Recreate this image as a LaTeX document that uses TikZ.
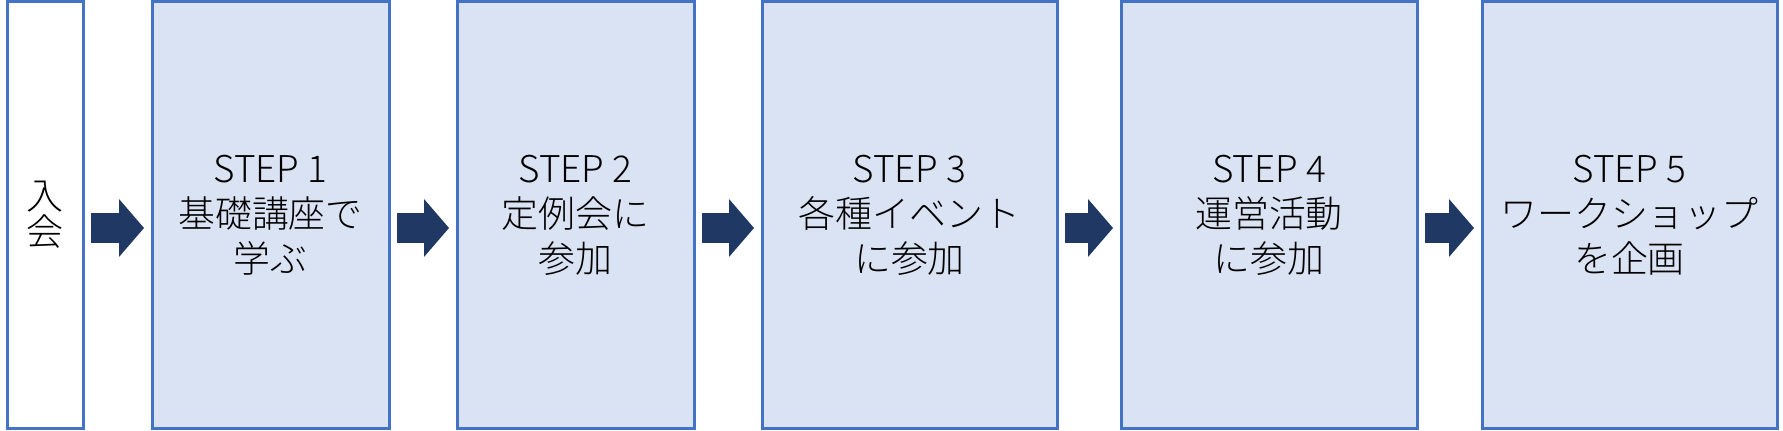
\documentclass[tikz,border=0pt]{standalone}
\usepackage{fontspec}
\setmainfont{Noto Sans CJK JP}[UprightFont=* Light]
\usepackage{xcolor}
\definecolor{stepblue}{HTML}{4472C4}
\definecolor{steplight}{HTML}{DAE3F3}
\definecolor{stepnavy}{HTML}{203864}
\usetikzlibrary{arrows.meta,positioning,calc}
\tikzset{
  stepbox/.style={draw=stepblue, line width=0.03cm, fill=steplight, outer sep=0pt, inner sep=0pt,
                  minimum width=#1, minimum height=4.27cm, align=center,
                  font=\fontsize{10.5}{12.8}\selectfont},
  joinbox/.style={draw=stepblue, line width=0.03cm, fill=white, outer sep=0pt, inner sep=0pt,
                  minimum width=0.755cm, minimum height=4.27cm, align=center,
                  font=\fontsize{10.5}{10.3}\selectfont},
  bigarrow/.style={draw=stepnavy, line width=0.30cm, shorten <=0.08cm, shorten >=0.08cm,
                   -{Triangle[length=0.25cm, width=0.58cm, line width=0pt]}},
}
\begin{document}
\begin{tikzpicture}

\useasboundingbox (0,0) rectangle (17.83,-4.31);

% Join
\node[joinbox] (join) at (0.4525,-2.15) {入\\会};

% Steps
\node[stepbox=2.37cm] (step1) at (2.705,-2.15) {STEP 1\\基礎講座で\\学ぶ};
\node[stepbox=2.37cm] (step2) at (5.755,-2.15) {STEP 2\\定例会に\\参加};
\node[stepbox=2.95cm] (step3) at (9.095,-2.15) {STEP 3\\各種イベント\\に参加};
\node[stepbox=2.96cm] (step4) at (12.69,-2.15) {STEP 4\\運営活動\\に参加};
\node[stepbox=2.95cm] (step5) at (16.295,-2.15) {STEP 5\\ワークショップ\\を企画};

% Arrows
\draw[bigarrow] ([yshift=-0.13cm]join.east) -- ([yshift=-0.13cm]step1.west);
\draw[bigarrow] ([yshift=-0.13cm]step1.east) -- ([yshift=-0.13cm]step2.west);
\draw[bigarrow] ([yshift=-0.13cm]step2.east) -- ([yshift=-0.13cm]step3.west);
\draw[bigarrow] ([yshift=-0.13cm]step3.east) -- ([yshift=-0.13cm]step4.west);
\draw[bigarrow] ([yshift=-0.13cm]step4.east) -- ([yshift=-0.13cm]step5.west);

\end{tikzpicture}
\end{document}
